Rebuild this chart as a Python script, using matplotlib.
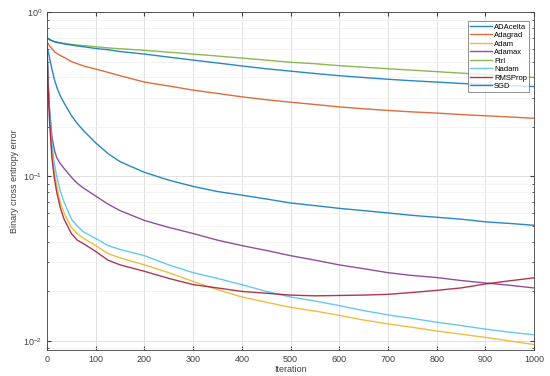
import matplotlib
matplotlib.use('Agg')
import matplotlib.pyplot as plt
from matplotlib.ticker import LogLocator, NullFormatter, FixedLocator

plt.rcParams['font.family'] = ['Liberation Sans', 'DejaVu Sans']

iters = [0, 2, 5, 10, 15, 20, 27, 35, 50, 62, 75, 100, 125, 150, 200, 250, 300, 350,
         400, 450, 500, 550, 600, 650, 700, 750, 800, 850, 900, 950, 1000]

adadelta = [0.62, 0.58, 0.53, 0.45, 0.39, 0.35, 0.31, 0.28, 0.235, 0.21, 0.19, 0.16,
            0.138, 0.123, 0.106, 0.095, 0.087, 0.081, 0.077, 0.073, 0.069, 0.0665,
            0.064, 0.062, 0.060, 0.058, 0.0565, 0.055, 0.053, 0.0518, 0.0505]
adagrad = [0.66, 0.645, 0.62, 0.60, 0.575, 0.56, 0.545, 0.53, 0.50, 0.485, 0.47, 0.45,
           0.43, 0.41, 0.375, 0.355, 0.335, 0.32, 0.305, 0.293, 0.283, 0.274,
           0.265, 0.258, 0.252, 0.247, 0.243, 0.238, 0.234, 0.230, 0.226]
adam = [0.62, 0.38, 0.24, 0.14, 0.105, 0.088, 0.07, 0.06, 0.049, 0.045, 0.042, 0.038,
        0.034, 0.032, 0.029, 0.026, 0.023, 0.0205, 0.0185, 0.0172, 0.016, 0.0152,
        0.0143, 0.0134, 0.0127, 0.0121, 0.0115, 0.011, 0.0105, 0.0100, 0.0095]
adamax = [0.62, 0.40, 0.26, 0.175, 0.145, 0.13, 0.12, 0.112, 0.099, 0.091, 0.085, 0.076,
          0.068, 0.062, 0.054, 0.049, 0.045, 0.041, 0.038, 0.0355, 0.033, 0.031,
          0.029, 0.0275, 0.026, 0.025, 0.0243, 0.0233, 0.0225, 0.0218, 0.021]
ftrl = [0.70, 0.69, 0.68, 0.67, 0.66, 0.655, 0.65, 0.645, 0.635, 0.63, 0.625, 0.615,
        0.605, 0.598, 0.585, 0.57, 0.555, 0.54, 0.525, 0.51, 0.495, 0.485,
        0.472, 0.462, 0.452, 0.443, 0.434, 0.425, 0.417, 0.408, 0.40]
nadam = [0.62, 0.40, 0.26, 0.16, 0.12, 0.10, 0.082, 0.07, 0.055, 0.05, 0.046, 0.042,
         0.038, 0.036, 0.033, 0.029, 0.026, 0.024, 0.022, 0.020, 0.0185, 0.0175,
         0.0164, 0.0153, 0.0144, 0.0137, 0.013, 0.0124, 0.0118, 0.0113, 0.0109]
rmsprop = [0.60, 0.36, 0.22, 0.13, 0.098, 0.08, 0.065, 0.055, 0.045, 0.041, 0.039, 0.035,
           0.031, 0.029, 0.0265, 0.024, 0.022, 0.021, 0.020, 0.0195, 0.019, 0.0188,
           0.0189, 0.019, 0.0192, 0.0197, 0.0203, 0.021, 0.0222, 0.0232, 0.0242]
sgd = [0.70, 0.69, 0.68, 0.67, 0.66, 0.655, 0.648, 0.64, 0.63, 0.622, 0.615, 0.60,
       0.59, 0.575, 0.555, 0.532, 0.51, 0.49, 0.47, 0.452, 0.437, 0.423,
       0.41, 0.40, 0.39, 0.382, 0.375, 0.368, 0.362, 0.357, 0.352]

names = ['ADAcelta', 'Adagrad', 'Adam', 'Adamax', 'Ftrl', 'Nadam', 'RMSProp', 'SGD']
series = [adadelta, adagrad, adam, adamax, ftrl, nadam, rmsprop, sgd]
# MATLAB default line colours
colors = ['#0072BD', '#D95319', '#EDB120', '#7E2F8E', '#77AC30', '#4DBEEE', '#A2142F', '#0072BD']

fig = plt.figure(figsize=(5.5, 3.76), dpi=100)
ax = fig.add_axes([0.0855, 0.069, 0.8855, 0.899])

for name, vals, c in zip(names, series, colors):
    ax.plot(iters, vals, color=c, lw=1.0, alpha=0.85, label=name)

ax.set_yscale('log')
ax.set_xlim(0, 1000)
ax.set_ylim(0.0088, 1)
ax.xaxis.set_major_locator(FixedLocator(range(0, 1001, 100)))
ax.yaxis.set_major_locator(FixedLocator([0.01, 0.1, 1]))
ax.yaxis.set_minor_locator(LogLocator(base=10, subs=range(2, 10)))
ax.yaxis.set_minor_formatter(NullFormatter())

ax.grid(True, which='major', color='#dcdcdc', lw=0.6)
ax.grid(True, which='minor', axis='y', color='#efefef', lw=0.5)
ax.set_axisbelow(True)
ax.tick_params(which='both', direction='in', top=True, right=True,
               labelsize=6.5, colors='#404040', length=3)
ax.tick_params(which='minor', length=1.5)
for s in ax.spines.values():
    s.set_color('#404040')
    s.set_linewidth(0.6)

ax.set_xlabel('Iteration', fontsize=6.5, color='#404040', labelpad=1)
ax.set_ylabel('Binary cross entropy error', fontsize=6.5, color='#404040', labelpad=3)

leg = ax.legend(loc='upper right', fontsize=5.5, frameon=True, fancybox=False,
                handlelength=2.8, handletextpad=0.3, labelspacing=0.15,
                borderpad=0.3, bbox_to_anchor=(0.998, 0.985))
leg.get_frame().set_edgecolor('#404040')
leg.get_frame().set_linewidth(0.5)

plt.savefig('out.png', dpi=100)
